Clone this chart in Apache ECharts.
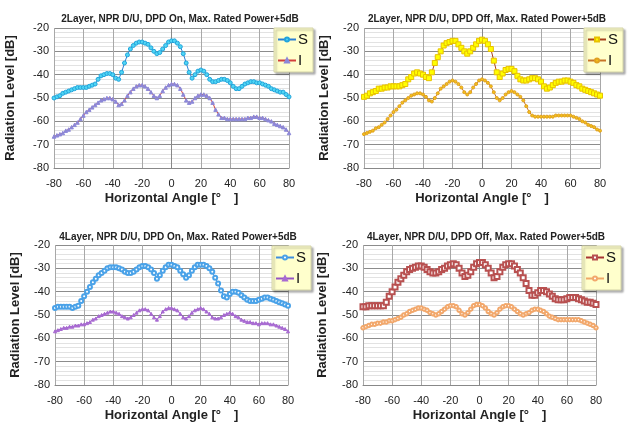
<!DOCTYPE html>
<html>
<head>
<meta charset="utf-8">
<script src="https://cdn.jsdelivr.net/npm/echarts@6/dist/echarts.min.js"></script>
<style>
html, body { margin: 0; padding: 0; background: #fff; }
#chart { width: 631px; height: 423px; }
</style>
</head>
<body>
<div id="chart"></div>
<script>
// horizontal angle samples, -80..80 deg every 2 deg
const angles = []
for (let a = -80; a <= 80; a += 2) angles.push(a)

const titles = [
  '2Layer, NPR D/U, DPD On, Max. Rated Power+5dB',
  '2Layer, NPR D/U, DPD Off, Max. Rated Power+5dB',
  '4Layer, NPR D/U, DPD On, Max. Rated Power+5dB',
  '4Layer, NPR D/U, DPD Off, Max. Rated Power+5dB'
]
const xTicks = [-80, -60, -40, -20, 0, 20, 40, 60, 80]
const yTicks = [-80, -70, -60, -50, -40, -30, -20]

// 2Layer DPD On
const s1 = [
  -50, -49.5, -49, -48, -47.5, -47, -46.5, -46, -45.5, -45.5,
  -45.5, -45.5, -45, -44.5, -44, -42, -40.5, -40, -39.5, -39.5,
  -40, -41.5, -42, -39, -35, -31.5, -29, -27.5, -26.5, -26,
  -26, -26.5, -27, -28.5, -30, -31, -30.5, -29, -27.5, -26,
  -25.5, -25.5, -26.5, -28, -31, -35, -39, -41.5, -40, -38.5,
  -38, -38.5, -40, -42, -43, -43, -42.5, -42, -42, -42.5,
  -43.5, -45, -46, -46, -45, -44, -43.5, -43, -43, -43.5,
  -43.5, -44, -44.5, -45, -46, -46.5, -47, -47.5, -47.5, -48.5,
  -49.5
]
const i1 = [
  -66.5, -66, -65.5, -65, -64, -63.5, -62.5, -61.5, -60.5, -59,
  -57.5, -56, -55, -54, -53, -52, -51, -50.5, -50, -50,
  -50.5, -51.5, -53, -52.5, -51, -49, -47.5, -46, -45, -44.5,
  -44.5, -45, -46, -47.5, -49, -50, -49, -47, -45.5, -44.5,
  -44, -44, -44.5, -46, -48.5, -51, -52, -51.5, -50, -49,
  -48.5, -48.5, -49, -50, -52, -55, -57, -58.5, -58.5, -59,
  -59, -59, -59, -59, -59, -59, -58.5, -58.5, -58, -58,
  -58.5, -58.5, -59, -59.5, -60, -61, -61.5, -62, -62.5, -63.5,
  -65
]
// 2Layer DPD Off
const s2 = [
  -49.5, -49, -48, -47.5, -47, -46, -46, -45.5, -45.5, -45,
  -45, -45, -45, -44.5, -44, -42, -41, -39.5, -39, -39.5,
  -40, -41, -41.5, -39, -35, -32.5, -30, -27.5, -26.5, -26,
  -25.5, -25.5, -27, -28.5, -30, -31, -30, -28.5, -27, -25.5,
  -25, -25.5, -27, -29, -34, -39, -41, -39.5, -38, -37.5,
  -37.5, -38.5, -40.5, -42, -42.5, -42.5, -42, -41.5, -41.5, -42,
  -43, -45, -46, -45.5, -44.5, -43.5, -43, -43, -42.5, -42.5,
  -43, -43.5, -44.5, -45, -46, -46.5, -47, -47.5, -48, -48.5,
  -49
]
const i2 = [
  -65.5, -65, -64.5, -64, -63, -62.5, -61.5, -60.5, -59, -57.5,
  -56, -55, -53.5, -52, -51, -50, -49, -48.5, -48, -48,
  -48.5, -49.5, -51, -51.5, -50, -48, -46, -45, -44, -43,
  -42.5, -43, -44, -45.5, -47.5, -48.5, -47.5, -45.5, -44, -42.5,
  -42, -42.5, -43.5, -45, -47.5, -50, -51, -50, -48.5, -47.5,
  -47, -47.5, -48.5, -49.5, -51, -53.5, -56, -57.5, -58, -58,
  -58, -58, -58, -58, -58, -57.5, -57.5, -57.5, -57.5, -57.5,
  -57.5, -58, -58.5, -59, -60, -60.5, -61.5, -62, -62.5, -63.5,
  -64
]
// 4Layer DPD On
const s3 = [
  -47, -46.5, -46.5, -46.5, -46.5, -46.5, -47, -46.5, -46, -44,
  -42, -40, -38, -36, -34.5, -33, -32, -31, -30, -29.5,
  -29.5, -29.5, -30, -30.5, -31.5, -32, -32, -31.5, -30.5, -29.5,
  -29, -29, -29.5, -30.5, -32, -34.5, -33, -31, -29.5, -28.5,
  -28.5, -29, -29.5, -31, -32.5, -34, -33, -31, -29.5, -28.5,
  -28.5, -28.5, -29, -30, -31.5, -34, -36.5, -39.5, -42, -42.5,
  -41, -40, -40, -40.5, -41.5, -42.5, -43.5, -44, -44, -44,
  -43.5, -43, -42.5, -42.5, -43, -43.5, -44, -44.5, -45, -45.5,
  -46
]
const i3 = [
  -57, -56.5, -56, -55.5, -55.5, -55, -55, -54.5, -54.5, -54,
  -54, -53.5, -53, -52, -51.5, -50.5, -50, -49.5, -49, -48.5,
  -48.5, -49, -49.5, -50.5, -51, -51.5, -51, -50, -49, -48,
  -47.5, -47.5, -48, -49.5, -51, -52, -50.5, -48.5, -47.5, -47,
  -47, -47.5, -48, -49.5, -51, -51.5, -50.5, -49, -48, -47.5,
  -47, -47.5, -48.5, -49.5, -51, -51.5, -51.5, -51, -50, -49.5,
  -49, -49.5, -50.5, -51, -52, -52.5, -53, -53, -53.5, -53.5,
  -54, -53.5, -53.5, -53.5, -54, -54, -54.5, -55, -55.5, -56,
  -57
]
// 4Layer DPD Off
const s4 = [
  -46.5, -46.5, -46, -46, -46, -46, -46, -46, -44.5, -42,
  -40, -38, -36, -34.5, -33, -31.5, -30.5, -30, -29.5, -29,
  -29, -29.5, -30.5, -31.5, -32, -32, -31.5, -30.5, -30, -29,
  -28.5, -28, -28.5, -30, -32, -33.5, -33, -31.5, -29.5, -28,
  -27.5, -27.5, -28.5, -30, -32, -34, -33.5, -31.5, -29.5, -28.5,
  -28, -28, -29, -30.5, -32, -34, -36.5, -39.5, -41.5, -41.5,
  -40.5, -39.5, -39.5, -40, -41, -42, -43, -43.5, -43.5, -43.5,
  -43, -42.5, -42.5, -42.5, -43, -43.5, -44, -44.5, -44.5, -45,
  -45.5
]
const i4 = [
  -55.5, -55, -54.5, -54, -54, -53.5, -53.5, -53, -53, -52.5,
  -52.5, -52, -51.5, -51, -50, -49.5, -48.5, -48, -47.5, -47,
  -47, -47.5, -48, -49, -49.5, -50, -49.5, -48.5, -47.5, -46.5,
  -46, -46, -46.5, -48, -49.5, -50, -49, -47.5, -46, -45.5,
  -45.5, -46, -47, -48.5, -49.5, -50, -49, -47.5, -46.5, -46,
  -46, -46.5, -47.5, -48.5, -49.5, -50, -49.5, -49, -48, -47.5,
  -47.5, -48, -48.5, -49.5, -50.5, -51, -51.5, -52, -52, -52,
  -52, -52, -52, -52, -52, -52.5, -53, -53.5, -54, -54.5,
  -55.5
]

const sData = [s1, s2, s3, s4]
const iData = [i1, i2, i3, i4]

// layout of the four panels
const panels = [
  { left: 54, top: 28, width: 235, height: 140, titleX: 175, titleY: 9, legendX: 274, legendY: 28, yGap: 37 },
  { left: 364, top: 28, width: 236, height: 140, titleX: 482, titleY: 9, legendX: 584, legendY: 28, yGap: 33 },
  { left: 55, top: 245, width: 233, height: 141, titleX: 173, titleY: 227, legendX: 272, legendY: 246, yGap: 33 },
  { left: 363, top: 245, width: 233, height: 140, titleX: 481, titleY: 227, legendX: 582, legendY: 246, yGap: 34 }
]

// marker styles per panel (for empty symbols the colour is the outline)
const styles = [
  {
    S: { line: '#2a7fd4', symbol: 'circle', size: 4, fill: '#4fd6f4', border: '#22a4dc' },
    I: { line: '#d2403c', symbol: 'triangle', size: 3.5, fill: '#8c88d8', border: '#8c88d8' }
  },
  {
    S: { line: '#a8401a', symbol: 'rect', size: 5, fill: '#ffff00', border: '#e8c000' },
    I: { line: '#c87428', symbol: 'circle', size: 3, fill: '#f5c21b', border: '#e0a020' }
  },
  {
    S: { line: '#3e8ede', symbol: 'emptyCircle', size: 4, fill: '#4aa2e8', border: '#4aa2e8' },
    I: { line: '#9655c4', symbol: 'triangle', size: 3, fill: '#a86ad2', border: '#a86ad2' }
  },
  {
    S: { line: '#a83434', symbol: 'emptyRect', size: 5, fill: '#b85050', border: '#b85050' },
    I: { line: '#f0a868', symbol: 'emptyCircle', size: 3.5, fill: '#f2a86c', border: '#f2a86c' }
  }
]

const font = 'Liberation Sans, Arial, sans-serif'

function makeSeries(name, k, values, st) {
  return {
    name: name + '#' + k,
    type: 'line',
    xAxisIndex: k,
    yAxisIndex: k,
    data: values.map((v, j) => [angles[j], v]),
    symbol: st.symbol,
    symbolSize: st.size,
    showAllSymbol: true,
    lineStyle: { color: st.line, width: 1 },
    itemStyle: { color: st.fill, borderColor: st.border, borderWidth: 1 }
  }
}

const option = {
  animation: false,
  backgroundColor: '#fff',
  title: panels.map((p, k) => ({
    text: titles[k],
    left: p.titleX,
    top: p.titleY,
    textAlign: 'center',
    textStyle: { fontFamily: font, fontSize: 10, fontWeight: 'bold', color: '#222' }
  })),
  legend: panels.map((p, k) => ({
    orient: 'vertical',
    left: p.legendX,
    top: p.legendY,
    data: ['S#' + k, 'I#' + k],
    formatter: (n) => n.split('#')[0],
    itemWidth: 18,
    itemHeight: 5,
    itemGap: 6,
    padding: [4, 5, 4, 3],
    backgroundColor: '#ffffcc',
    borderColor: '#d4d4a8',
    borderWidth: 1,
    shadowColor: 'rgba(0,0,0,0.3)',
    shadowBlur: 2,
    shadowOffsetX: 2,
    shadowOffsetY: 2,
    selectedMode: false,
    textStyle: { fontFamily: font, fontSize: 15, color: '#111', padding: [0, 0, 0, -3] }
  })),
  grid: panels.map((p) => ({ left: p.left, top: p.top, width: p.width, height: p.height })),
  xAxis: panels.map((p, k) => ({
    type: 'value',
    gridIndex: k,
    min: xTicks[0],
    max: xTicks[xTicks.length - 1],
    interval: 20,
    name: 'Horizontal Angle [°\u3000]',
    nameLocation: 'middle',
    nameGap: 24,
    nameTextStyle: { fontFamily: font, fontSize: 13, fontWeight: 'bold', color: '#222' },
    axisLine: { show: true, lineStyle: { color: '#888' } },
    axisTick: { show: false },
    axisLabel: { fontFamily: font, fontSize: 11, color: '#222', margin: 10 },
    splitLine: { show: true, lineStyle: { color: '#a8a8a8', width: 1 } }
  })),
  yAxis: panels.map((p, k) => ({
    type: 'value',
    gridIndex: k,
    min: yTicks[0],
    max: yTicks[yTicks.length - 1],
    interval: 10,
    name: 'Radiation Level [dB]',
    nameLocation: 'middle',
    nameGap: p.yGap,
    nameTextStyle: { fontFamily: font, fontSize: 13, fontWeight: 'bold', color: '#222' },
    axisLine: { show: true, lineStyle: { color: '#888' } },
    axisTick: { show: false },
    axisLabel: { fontFamily: font, fontSize: 11, color: '#222', margin: 5 },
    splitLine: { show: true, lineStyle: { color: '#8c8c8c', width: 1 } },
    minorTick: { show: false, splitNumber: 5 },
    minorSplitLine: { show: true, lineStyle: { color: '#e2e2e2', width: 1 } }
  })),
  series: []
}

panels.forEach((p, k) => {
  option.series.push(makeSeries('I', k, iData[k], styles[k].I))
  option.series.push(makeSeries('S', k, sData[k], styles[k].S))
})

const chart = echarts.init(document.getElementById('chart'))
chart.setOption(option)
</script>
</body>
</html>
